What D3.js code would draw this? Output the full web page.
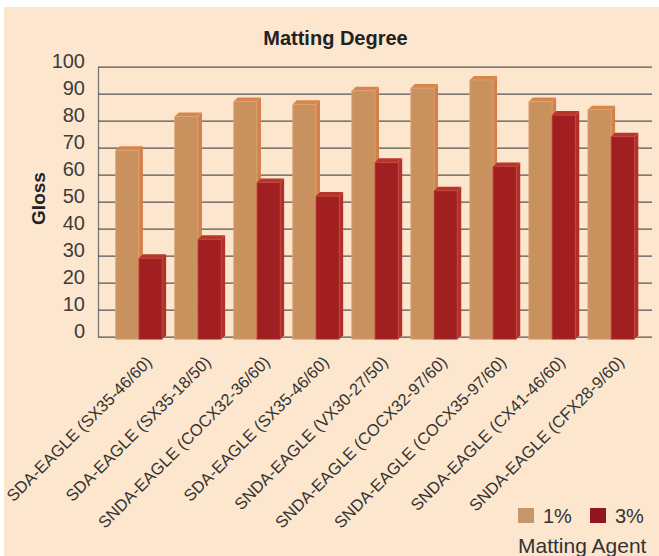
<!DOCTYPE html>
<html>
<head>
<meta charset="utf-8">
<script src="https://cdn.jsdelivr.net/npm/d3@7"></script>
<style>
  html, body { margin: 0; padding: 0; background: #ffffff; }
  svg { display: block; }
</style>
</head>
<body>
<svg id="chart" width="659" height="556"></svg>
<script>
// ---- data ----
const categories = [
  "SDA-EAGLE (SX35-46/60)",
  "SDA-EAGLE (SX35-18/50)",
  "SNDA-EAGLE (COCX32-36/60)",
  "SDA-EAGLE (SX35-46/60)",
  "SNDA-EAGLE (VX30-27/50)",
  "SNDA-EAGLE (COCX32-97/60)",
  "SNDA-EAGLE (COCX35-97/60)",
  "SNDA-EAGLE (CX41-46/60)",
  "SNDA-EAGLE (CFX28-9/60)"
];
const seriesNames = ["1%", "3%"];
const values1 = [70, 82.5, 88, 87, 92, 93, 96, 88, 85];
const values3 = [30, 37, 58, 53, 65.5, 55, 64, 83, 75];
const yTicks = [0, 10, 20, 30, 40, 50, 60, 70, 80, 90, 100];
const chartTitle = "Matting Degree";
const yTitle = "Gloss";
const legendTitle = "Matting Agent";

const frontColors = ["#C9915E", "#A11F21"];
const topColors = ["#D8864C", "#B8352A"];
const sideColors = ["#D3804A", "#B3302A"];
const edgeColors = ["#DDA57A", "#C2473C"];
const legendColors = ["#C4966A", "#921421"];

const svg = d3.select("#chart");

// background panel
svg.append("rect").attr("x", 4).attr("y", 7).attr("width", 655).attr("height", 549)
  .attr("fill", "#FDE6CE");

const plotLeft = 98, plotRight = 652, plotTop = 66.7, plotBottom = 336.7;
const y = d3.scaleLinear().domain([0, 100]).range([plotBottom, plotTop]);
const x0 = d3.scaleBand().domain(d3.range(categories.length)).range([plotLeft, plotRight])
  .paddingInner(0.214).paddingOuter(0.3);
const x1 = d3.scaleBand().domain(seriesNames).range([0, x0.bandwidth()]);

// y axis with gridlines
const yAxis = d3.axisLeft(y).tickValues(yTicks).tickSize(-(plotRight - plotLeft)).tickSizeOuter(0).tickPadding(13);
const gy = svg.append("g").attr("transform", `translate(${plotLeft},0)`).call(yAxis);
gy.select(".domain").attr("stroke", "#777").attr("stroke-width", 1.3);
gy.selectAll(".tick line").attr("stroke", "#555").attr("stroke-width", 1.3);
gy.selectAll(".tick text")
  .attr("dy", "0.05em")
  .attr("font-family", "'Liberation Sans', Arial, sans-serif")
  .attr("font-size", 20)
  .attr("fill", "#3c3c3c");

// bars
const fd = 2.5, d = 4;
const data = categories.map((c, i) => ({ i, vals: [values1[i], values3[i]] }));
const groups = svg.append("g").selectAll("g").data(data).join("g")
  .attr("transform", g => `translate(${x0(g.i)},0)`);

groups.each(function(g) {
  const sel = d3.select(this);
  g.vals.forEach((v, s) => {
    const xs = x1(seriesNames[s]);
    const w = x1.bandwidth();
    const yt = y(v) + fd;
    const yb = y(0) + fd;
    sel.append("polygon")
      .attr("points", [[xs + w, yt], [xs + w + d, yt - d], [xs + w + d, yb - d], [xs + w, yb]].join(" "))
      .attr("fill", sideColors[s]);
    sel.append("polygon")
      .attr("points", [[xs, yt], [xs + d, yt - d], [xs + w + d, yt - d], [xs + w, yt]].join(" "))
      .attr("fill", topColors[s]);
    sel.append("rect")
      .attr("x", xs).attr("y", yt).attr("width", w).attr("height", yb - yt)
      .attr("fill", frontColors[s])
      .attr("stroke", edgeColors[s]).attr("stroke-width", 0.8);
  });
});

// x axis labels
const xAxis = d3.axisBottom(x0).tickSize(0).tickFormat(i => categories[i]);
const gx = svg.append("g").attr("transform", `translate(0,${plotBottom})`).call(xAxis);
gx.select(".domain").remove();
gx.selectAll(".tick text")
  .attr("y", 0).attr("dy", 0)
  .attr("transform", "translate(14,26.5) rotate(-45)")
  .attr("text-anchor", "end")
  .attr("font-family", "'Liberation Sans', Arial, sans-serif")
  .attr("font-size", 16.5)
  .attr("fill", "#333");

// title
svg.append("text").attr("x", 335.5).attr("y", 45).attr("text-anchor", "middle")
  .attr("font-family", "'Liberation Sans', Arial, sans-serif")
  .attr("font-size", 20).attr("font-weight", "bold").attr("fill", "#222")
  .text(chartTitle);

// y title
svg.append("text").attr("transform", "translate(45,198.5) rotate(-90)")
  .attr("text-anchor", "middle")
  .attr("font-family", "'Liberation Sans', Arial, sans-serif")
  .attr("font-size", 19).attr("font-weight", "bold").attr("fill", "#222")
  .text(yTitle);

// legend
const legendX = [518, 590];
seriesNames.forEach((name, s) => {
  svg.append("rect").attr("x", legendX[s]).attr("y", 508).attr("width", 16).attr("height", 15)
    .attr("fill", legendColors[s]);
  svg.append("text").attr("x", legendX[s] + 25).attr("y", 523)
    .attr("font-family", "'Liberation Sans', Arial, sans-serif")
    .attr("font-size", 20).attr("fill", "#333").text(name);
});
svg.append("text").attr("x", 518).attr("y", 553)
  .attr("font-family", "'Liberation Sans', Arial, sans-serif")
  .attr("font-size", 21).attr("fill", "#333").text(legendTitle);
</script>
</body>
</html>
